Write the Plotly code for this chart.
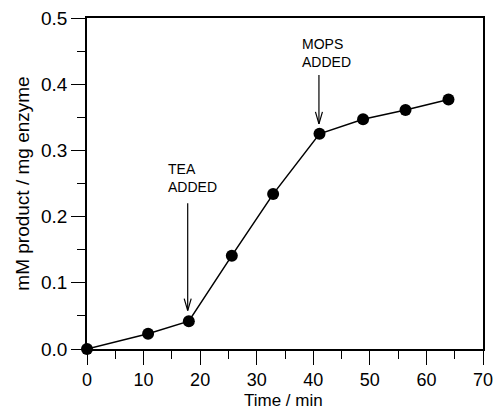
import plotly.graph_objects as go

time_min = [0, 10.8, 18.0, 25.6, 32.9, 41.1, 48.8, 56.3, 63.9]
product = [0.0, 0.023, 0.042, 0.141, 0.234, 0.325, 0.347, 0.361, 0.377]

x_ticks = [0, 10, 20, 30, 40, 50, 60, 70]
y_ticks = [0.0, 0.1, 0.2, 0.3, 0.4, 0.5]
y_tick_labels = ["0.0", "0.1", "0.2", "0.3", "0.4", "0.5"]

# annotations: (label, arrow x, arrow top y, arrow tip y, text left x, text center y)
events = [
    ("TEA<br>ADDED", 17.8, 0.220, 0.058, 14.0, 0.258),
    ("MOPS<br>ADDED", 41.0, 0.414, 0.340, 37.6, 0.447),
]

FONT = "Liberation Sans, Arial, Helvetica, sans-serif"

fig = go.Figure()
fig.add_trace(go.Scatter(
    x=time_min, y=product, mode="lines+markers",
    line=dict(color="black", width=1.5),
    marker=dict(color="black", size=12),
    cliponaxis=False, showlegend=False,
))

# pixel scale for arrow heads
px_x = 70 / 396.0
px_y = 0.5 / 331.0
for label, ax, y0, y1, tx, ty in events:
    fig.add_shape(type="line", x0=ax, x1=ax, y0=y0, y1=y1,
                  line=dict(color="black", width=1.2))
    fig.add_trace(go.Scatter(
        x=[ax - 3.5 * px_x, ax, ax + 3.5 * px_x],
        y=[y1 + 12 * px_y, y1, y1 + 12 * px_y],
        mode="lines", line=dict(color="black", width=1.2),
        showlegend=False, hoverinfo="skip",
    ))
    fig.add_annotation(x=tx, y=ty, text=label, showarrow=False,
                       xanchor="left", yanchor="middle", align="left",
                       font=dict(family=FONT, size=14, color="black"))

# x-axis title as a paper-positioned annotation
fig.add_annotation(x=0.495, y=-0.157, xref="paper", yref="paper",
                   text="Time / min", showarrow=False, borderpad=0,
                   xanchor="center", yanchor="middle",
                   font=dict(family=FONT, size=17, color="black"))

fig.update_xaxes(
    range=[0, 70], tickvals=x_ticks, ticks="outside", ticklen=14, tickwidth=1.3,
    tickcolor="black", showline=True, linecolor="black", linewidth=1.5,
    mirror=True, showgrid=False, zeroline=False, ticklabelstandoff=0,
    automargin=False,
    minor=dict(dtick=5, tick0=0, ticks="outside", ticklen=8, tickwidth=1.2,
               tickcolor="black", showgrid=False),
    tickfont=dict(family=FONT, size=18, color="black"),
)
fig.update_yaxes(
    range=[0, 0.5], tickvals=y_ticks, ticktext=y_tick_labels, ticks="outside",
    ticklen=14, tickwidth=1.3, tickcolor="black", showline=True,
    linecolor="black", linewidth=1.5, mirror=True, showgrid=False, zeroline=False,
    automargin=False,
    minor=dict(dtick=0.05, tick0=0, ticks="outside", ticklen=8, tickwidth=1.2,
               tickcolor="black", showgrid=False),
    tickfont=dict(family=FONT, size=19, color="black"),
    title=dict(text="mM product / mg enzyme",
               font=dict(family=FONT, size=19, color="black"), standoff=6),
)
fig.update_layout(
    width=497, height=412,
    margin=dict(l=87, r=14, t=18, b=63),
    paper_bgcolor="white", plot_bgcolor="white",
)
fig.write_html("out.html")
